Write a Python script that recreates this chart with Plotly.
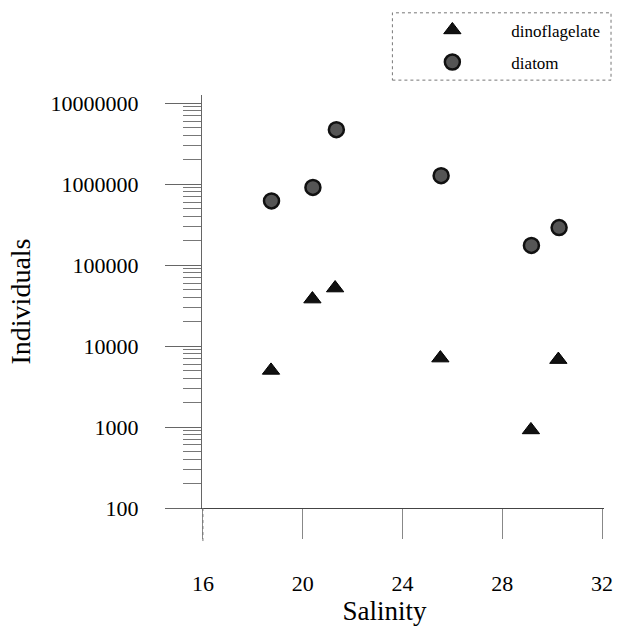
import plotly.graph_objects as go

salinity_dino = [18.73, 20.39, 21.3, 25.52, 29.15, 30.25]
individuals_dino = [5000, 38000, 52000, 7100, 920, 6800]
salinity_diatom = [18.75, 20.41, 21.35, 25.55, 29.17, 30.28]
individuals_diatom = [620000, 910000, 4700000, 1270000, 175000, 290000]
x_ticks = [16, 20, 24, 28, 32]
y_ticks = [100, 1000, 10000, 100000, 1000000, 10000000]

FONT = "Liberation Serif"

fig = go.Figure()
fig.add_trace(go.Scatter(
    x=salinity_dino, y=individuals_dino, mode="markers", name="dinoflagelate",
    legendgroup="dino",
    marker=dict(symbol="triangle-up", size=15, color="#111111",
                line=dict(color="black", width=1)),
))
fig.add_trace(go.Scatter(
    x=salinity_diatom, y=individuals_diatom, mode="markers", name="diatom",
    legendgroup="diatom",
    marker=dict(symbol="circle", size=15, color="#555555",
                line=dict(color="#111111", width=2.5)),
))

fig.update_layout(
    width=617, height=626,
    margin=dict(l=165, r=12, t=95, b=118),
    paper_bgcolor="white", plot_bgcolor="white",
    font=dict(family=FONT, color="black", size=22),
    showlegend=True,
    legend=dict(x=0.519, y=1.20, xanchor="left", yanchor="top",
                font=dict(family=FONT, size=17), itemwidth=108,
                bgcolor="rgba(0,0,0,0)", borderwidth=0, tracegroupgap=7),
    xaxis=dict(range=[14.48, 32.08], tickvals=x_ticks, ticktext=[str(v) for v in x_ticks],
               automargin=False, ticklabeloverflow="allow",
               showgrid=False, zeroline=False, showline=True, linecolor="#444", linewidth=1,
               ticks="outside", ticklen=30, tickcolor="#888", tickwidth=1,
               ticklabelstandoff=26,
               title=dict(text="Salinity", font=dict(size=27, family=FONT), standoff=0)),
    yaxis=dict(type="log", range=[2, 7.1], tickvals=y_ticks, ticktext=[str(v) for v in y_ticks],
               anchor="free", position=(201 - 165) / 440, automargin=False,
               ticklabeloverflow="allow",
               showgrid=False, zeroline=False, showline=True, linecolor="#666", linewidth=1,
               ticks="outside", ticklen=36, tickcolor="#666", tickwidth=1,
               ticklabelstandoff=22,
               minor=dict(ticks="outside", ticklen=18, tickcolor="#777", dtick="D1", showgrid=False),
               title=dict(text="Individuals", font=dict(size=28, family=FONT), standoff=10)),
    shapes=[
        dict(type="line", xref="x", yref="paper", x0=16, x1=16, y0=-0.08, y1=0,
             line=dict(color="#777", width=1, dash="dot")),
        dict(type="rect", xref="paper", yref="paper", x0=0.518, x1=1.016, y0=1.036, y1=1.199,
             line=dict(color="#777", width=1, dash="dot")),
    ],
)

fig.write_html(
    "out.html",
    config={"displayModeBar": False},
    post_script=("document.documentElement.style.overflow='hidden';"
                 "document.body.style.overflow='hidden';"
                 "document.body.style.margin='0';"),
)
